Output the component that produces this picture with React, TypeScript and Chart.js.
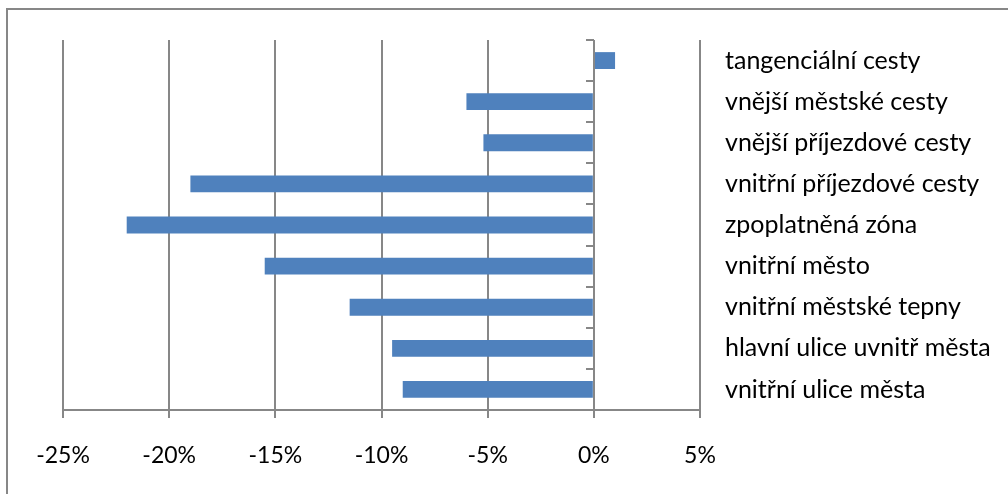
import React, { useEffect, useRef } from "react";
import { Chart, registerables } from "chart.js";

Chart.register(...registerables);

const categories = [
  "tangenciální cesty",
  "vnější městské cesty",
  "vnější příjezdové cesty",
  "vnitřní příjezdové cesty",
  "zpoplatněná zóna",
  "vnitřní město",
  "vnitřní městské tepny",
  "hlavní ulice uvnitř města",
  "vnitřní ulice města",
];

const changes = [1, -6, -5.2, -19, -22, -15.5, -11.5, -9.5, -9];

const xMin = -25;
const xMax = 5;
const xStep = 5;

const FONT = "Lato";
const GRAY = "#878787";

const zeroAxisPlugin = {
  id: "zeroAxis",
  afterDatasetsDraw(chart: any) {
    const { ctx, chartArea, scales } = chart;
    const x0 = Math.round(scales.x.getPixelForValue(0));
    const n = categories.length;
    const h = (chartArea.bottom - chartArea.top) / n;
    ctx.save();
    ctx.strokeStyle = GRAY;
    ctx.lineWidth = 2;
    ctx.beginPath();
    ctx.moveTo(x0, chartArea.top);
    ctx.lineTo(x0, chartArea.bottom);
    for (let i = 0; i <= n; i++) {
      const y = Math.round(chartArea.top + i * h);
      ctx.moveTo(x0 - 8, y);
      ctx.lineTo(x0, y);
    }
    ctx.stroke();
    ctx.restore();
  },
};

export default function App() {
  const ref = useRef<HTMLCanvasElement | null>(null);

  useEffect(() => {
    if (!ref.current) return;
    const chart = new Chart(ref.current, {
      type: "bar",
      data: {
        labels: categories,
        datasets: [
          {
            data: changes,
            backgroundColor: "#4F81BD",
            borderWidth: 0,
            categoryPercentage: 1,
            barPercentage: 0.41,
          },
        ],
      },
      options: {
        indexAxis: "y",
        responsive: false,
        animation: false,
        layout: { padding: { top: 37, left: 63, right: 0, bottom: 0 } },
        plugins: {
          legend: { display: false },
          tooltip: { enabled: false },
        },
        scales: {
          x: {
            type: "linear",
            min: xMin,
            max: xMax,
            ticks: {
              stepSize: xStep,
              callback: (v: any) => `${v}%`,
              color: "#000",
              font: { family: FONT, size: 23 },
              padding: 24,
              maxRotation: 0,
            },
            grid: { color: GRAY, lineWidth: 2, tickLength: 8 },
            border: { color: GRAY, width: 2 },
            afterFit(scale: any) {
              scale.height = 84;
            },
          },
          y: {
            type: "category",
            position: "right",
            grid: { display: false, drawTicks: false },
            border: { display: false },
            ticks: {
              color: "#000",
              font: { family: FONT, size: 25 },
              padding: 25,
            },
            afterFit(scale: any) {
              scale.width = 308;
            },
          },
        },
      },
      plugins: [zeroAxisPlugin],
    });
    return () => chart.destroy();
  }, []);

  return (
    <div style={{ position: "fixed", left: 0, top: 0, width: 1008, height: 494, overflow: "hidden", background: "#fff" }}>
      <canvas ref={ref} width={1008} height={494} style={{ width: 1008, height: 494, display: "block" }} />
      <div
        style={{
          position: "absolute",
          left: 6,
          top: 8,
          width: 1100,
          height: 600,
          border: `2px solid ${GRAY}`,
          pointerEvents: "none",
        }}
      />
    </div>
  );
}
